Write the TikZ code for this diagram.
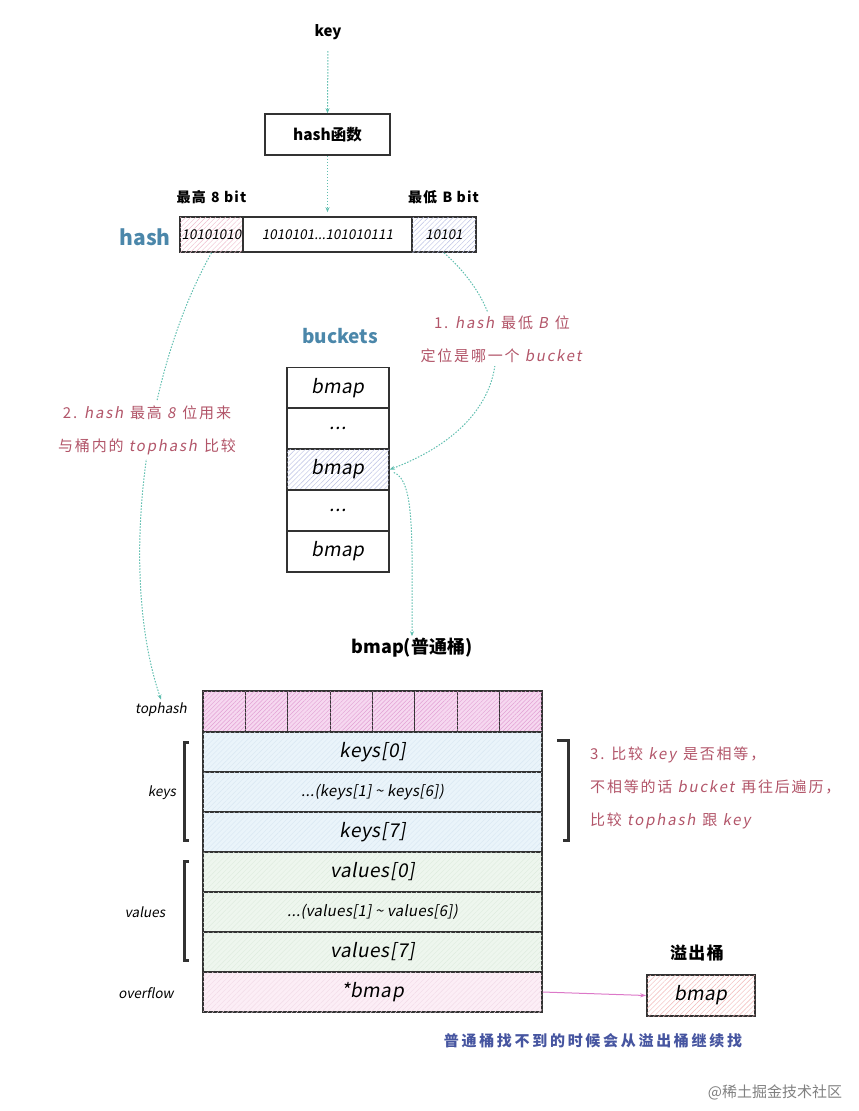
\documentclass[tikz,border=0pt]{standalone}
\usepackage{fontspec}
\setmainfont{Noto Sans CJK SC}[AutoFakeSlant=0.18]
\usepackage{xcolor}
\usetikzlibrary{positioning,patterns.meta,arrows.meta}

\definecolor{linegray}{RGB}{50,50,50}
\definecolor{arrowteal}{RGB}{95,190,175}
\definecolor{notered}{RGB}{178,85,105}
\definecolor{titleblue}{RGB}{75,135,170}
\definecolor{captionblue}{RGB}{70,85,160}
\definecolor{linkpink}{RGB}{220,120,200}
\definecolor{tophashfill}{RGB}{246,216,240}
\definecolor{tophashhatch}{RGB}{226,160,212}
\definecolor{keysfill}{RGB}{234,244,250}
\definecolor{keyshatch}{RGB}{216,231,242}
\definecolor{valuesfill}{RGB}{238,246,238}
\definecolor{valueshatch}{RGB}{222,236,222}
\definecolor{overflowfill}{RGB}{252,238,246}
\definecolor{overflowhatch}{RGB}{242,218,231}
\definecolor{highhatch}{RGB}{238,188,204}
\definecolor{lowhatch}{RGB}{186,192,228}
\definecolor{redhatch}{RGB}{242,182,182}

\begin{document}
\begin{tikzpicture}[x=1pt,y=-1pt]
		\tikzstyle{box_style} = [rectangle,draw=linegray,line width=1.6pt,inner sep=0pt]
		\tikzstyle{row_style} = [rectangle,draw=linegray,line width=1.2pt,inner sep=0pt,minimum width=339pt,minimum height=40pt]
		\tikzstyle{edge_style} = [draw=arrowteal,line width=1pt,dash pattern=on 1.5pt off 1.5pt,-{Stealth[length=5pt,width=4pt]}]
		\tikzstyle{high_style} = [fill=white,postaction={pattern={Lines[angle=45,distance=3.5pt,line width=0.45pt]},pattern color=highhatch}]
		\tikzstyle{low_style} = [fill=white,postaction={pattern={Lines[angle=45,distance=3.5pt,line width=0.45pt]},pattern color=lowhatch}]
		\tikzstyle{red_style} = [fill=white,postaction={pattern={Lines[angle=45,distance=3.5pt,line width=0.45pt]},pattern color=redhatch}]
		\tikzstyle{tophash_style} = [fill=tophashfill,postaction={pattern={Lines[angle=45,distance=3pt,line width=0.45pt]},pattern color=tophashhatch}]
		\tikzstyle{keys_style} = [fill=keysfill,postaction={pattern={Lines[angle=45,distance=3.5pt,line width=0.4pt]},pattern color=keyshatch}]
		\tikzstyle{values_style} = [fill=valuesfill,postaction={pattern={Lines[angle=45,distance=3.5pt,line width=0.4pt]},pattern color=valueshatch}]
		\tikzstyle{overflow_style} = [fill=overflowfill,postaction={pattern={Lines[angle=45,distance=3.5pt,line width=0.4pt]},pattern color=overflowhatch}]
		\tikzstyle{big_text} = [font=\fontsize{19}{21}\selectfont\itshape\addfontfeatures{LetterSpace=3}]
		\tikzstyle{mid_text} = [font=\fontsize{15}{17}\selectfont\itshape\addfontfeatures{LetterSpace=2}]
		\tikzstyle{small_text} = [font=\fontsize{13.5}{15}\selectfont\itshape]
		\tikzstyle{note_style} = [text=notered,font=\fontsize{15}{33}\selectfont\addfontfeatures{LetterSpace=12},fill=white,inner sep=4pt]
		\useasboundingbox (0,0) rectangle (859,1111);
		% key and hash function
		\node[font=\fontsize{15}{17}\selectfont\bfseries\itshape] (key) at (328,32) {key};
		\node[box_style,minimum width=125pt,minimum height=41pt,font=\fontsize{15.5}{17}\selectfont\bfseries] (hash_fn) at (327.5,134.5) {\textit{hash}函数};
		% hash bits
		\node[box_style,high_style,minimum width=63pt,minimum height=35pt,small_text] (hash_high) at (211.5,234.5) {10101010};
		\node[box_style,minimum width=169pt,minimum height=35pt,small_text] (hash_mid) at (327.5,234.5) {1010101...101010111};
		\node[box_style,low_style,minimum width=64pt,minimum height=35pt,small_text] (hash_low) at (444,234.5) {10101};
		\node[font=\fontsize{14}{15}\selectfont\bfseries\addfontfeatures{LetterSpace=8}] (high_label) at (212,197) {最高 \textit{8 bit}};
		\node[font=\fontsize{14}{15}\selectfont\bfseries\addfontfeatures{LetterSpace=8}] (low_label) at (444,197) {最低 \textit{B bit}};
		\node[text=titleblue,font=\fontsize{21}{22}\selectfont\bfseries\itshape] (hash_label) at (145,237) {hash};
		% buckets
		\node[text=titleblue,font=\fontsize{19}{20}\selectfont\bfseries\itshape] (buckets_label) at (340,336) {buckets};
		\node[box_style,minimum width=102pt,minimum height=41pt,big_text] (b1) at (338,388) {bmap};
		\node[box_style,minimum width=102pt,minimum height=41pt,big_text] (b2) at (338,428.5) {...};
		\node[box_style,low_style,minimum width=102pt,minimum height=41pt,big_text] (b3) at (338,469.5) {bmap};
		\node[box_style,minimum width=102pt,minimum height=41pt,big_text] (b4) at (338,510.5) {...};
		\node[box_style,minimum width=102pt,minimum height=41pt,big_text] (b5) at (338,551.5) {bmap};
		% bmap struct
		\node[font=\fontsize{18}{19}\selectfont\bfseries,inner sep=2pt] (bmap_label) at (412,648) {\textit{bmap}(普通桶)};
		\foreach \i in {0,...,7}
			\node[rectangle,draw=linegray,line width=1.2pt,tophash_style,minimum width=42.4pt,minimum height=41pt] (top\i) at ({203+42.375*(\i+0.5)},711.5) {};
		\node[row_style,keys_style,big_text] (keys0) at (372.5,752) {keys[0]};
		\node[row_style,keys_style,mid_text] (keys1) at (372.5,792) {...(keys[1] \textasciitilde\ keys[6])};
		\node[row_style,keys_style,big_text] (keys7) at (372.5,832) {keys[7]};
		\node[row_style,values_style,big_text] (values0) at (372.5,872) {values[0]};
		\node[row_style,values_style,mid_text] (values1) at (372.5,912) {...(values[1] \textasciitilde\ values[6])};
		\node[row_style,values_style,big_text] (values7) at (372.5,952) {values[7]};
		\node[row_style,overflow_style,big_text] (overflow) at (372.5,992) {*bmap};
		\node[small_text] (tophash_label) at (161,710) {tophash};
		\node[small_text] (keys_label) at (162,793) {keys};
		\node[small_text] (values_label) at (145,912) {values};
		\node[small_text] (overflow_label) at (146,993) {overflow};
		% brackets
		\draw[linegray,line width=3pt] (189,742) -- (184,742) -- (184,840) -- (189,840);
		\draw[linegray,line width=3pt] (189,861) -- (184,861) -- (184,960) -- (189,960);
		\draw[linegray,line width=3pt] (557,740) -- (568,740) -- (568,840) -- (563,840);
		% overflow bucket
		\node[font=\fontsize{17}{18}\selectfont\bfseries\addfontfeatures{LetterSpace=8}] (ov_label) at (697,953) {溢出桶};
		\node[box_style,red_style,minimum width=108pt,minimum height=41pt,big_text] (ov_bmap) at (701,995.5) {bmap};
		% connectors
		\draw[edge_style,shorten <=8pt] (key.south) -- (hash_fn.north);
		\draw[edge_style,shorten >=4pt] (hash_fn.south) -- (hash_mid.north);
		\draw[edge_style] (hash_low.south) .. controls (520,320) and (520,420) .. (b3.east);
		\draw[edge_style] (hash_high.south) .. controls (140,380) and (120,580) .. (tophash_label.north);
		\draw[edge_style] ([xshift=4pt,yshift=-3pt]b3.east) .. controls (415,480) and (412,540) .. (bmap_label.north);
		\draw[draw=linkpink,line width=1pt,-{Stealth[length=6pt,width=4pt]}] (overflow.east) -- (ov_bmap.west);
		% notes
		\node[note_style,align=center] (note1) at (502,339) {1. \textit{hash} 最低 \textit{B} 位\\定位是哪一个 \textit{bucket}};
		\node[note_style,align=center] (note2) at (147,430) {2. \textit{hash} 最高 \textit{8} 位用来\\与桶内的 \textit{tophash} 比较};
		\node[note_style,align=left,anchor=west,fill=none] (note3) at (586,788) {3. 比较 \textit{key} 是否相等，\\不相等的话 \textit{bucket} 再往后遍历，\\比较 \textit{tophash} 跟 \textit{key}};
		\node[text=captionblue,font=\fontsize{15}{16}\selectfont\bfseries\addfontfeatures{LetterSpace=18}] (caption) at (593,1041) {普通桶找不到的时候会从溢出桶继续找};
		\node[text=gray,font=\fontsize{15}{17}\selectfont] (watermark) at (775,1092) {@稀土掘金技术社区};
\end{tikzpicture}
\end{document}
